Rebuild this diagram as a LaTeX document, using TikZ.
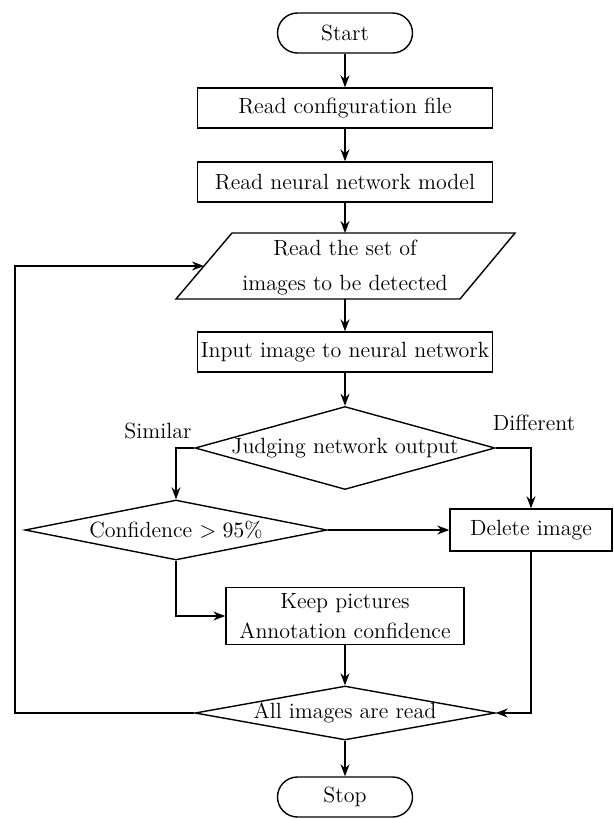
\documentclass[tikz,border=0pt]{standalone}
\usetikzlibrary{shapes.geometric,arrows.meta}
\begin{document}
\begin{tikzpicture}[x=0.5pt,y=-0.5pt, line width=0.7pt,
  font=\fontsize{11pt}{13.2pt}\selectfont,
  arr/.style={-{Stealth[length=6pt,width=4.5pt]}},
  term/.style={draw, rectangle, rounded corners=10pt, minimum width=67.5pt, minimum height=20pt, inner sep=0pt},
  proc/.style={draw, rectangle, minimum width=147.5pt, minimum height=20pt, inner sep=0pt},
  dec/.style={draw, diamond, inner sep=0pt},
  txt/.style={inner sep=0pt, align=center}
]
\useasboundingbox (0,0) rectangle (614,819);

\node[term] (start) at (345,33) {Start};
\node[proc] (cfg) at (345,108) {Read configuration file};
\node[proc] (model) at (345,182) {Read neural network model};

% parallelogram
\coordinate (pTL) at (232,233);
\coordinate (pTR) at (515,233);
\coordinate (pBR) at (460,299);
\coordinate (pBL) at (176,299);
\coordinate (paraT) at (345,233);
\coordinate (paraB) at (345,299);
\coordinate (paraL) at (204,266);
\draw (pTL) -- (pTR) -- (pBR) -- (pBL) -- cycle;
\node[txt] (para) at (345,268) {Read the set of\\[4.3pt]images to be detected};

\node[proc] (input) at (345,352) {Input image to neural network};

\node[dec, minimum width=150pt, minimum height=41.5pt] (judge) at (345,448) {};
\node[txt] (judgeT) at (345,448) {Judging network output};

\node[txt] (sim) at (158,431) {Similar};
\node[txt] (diff) at (534,423) {Different};

\node[dec, minimum width=151pt, minimum height=30pt] (cd) at (176,530) {};
\node[txt] (cdT) at (176,530) {Confidence $>95\%$};

\node[draw, rectangle, minimum width=81pt, minimum height=21pt, inner sep=0pt] (del) at (531,530) {Delete image};

\node[draw, rectangle, minimum width=119pt, minimum height=28.5pt, inner sep=0pt, align=center] (keep) at (345,616) {Keep pictures\\[1.8pt]Annotation confidence};

\node[dec, minimum width=150pt, minimum height=27pt] (all) at (345,713) {};
\node[txt] (allT) at (345,713) {All images are read};

\node[term] (stop) at (345,797) {Stop};

\coordinate (loopB) at (15,713);

\draw[arr] (start) -- (cfg);
\draw[arr] (cfg) -- (model);
\draw[arr] (model) -- (paraT);
\draw[arr] (paraB) -- (input);
\draw[arr] (input) -- (judge);
\draw[arr] (judge.west) -| (cd.north);
\draw[arr] (judge.east) -| (del.north);
\draw[arr] (cd.east) -- (del.west);
\draw[arr] (cd.south) |- (keep.west);
\draw[arr] (keep) -- (all);
\draw[arr] (del.south) |- (all.east);
\draw[arr] (all.west) -- (loopB) |- (paraL);
\draw[arr] (all) -- (stop);
\end{tikzpicture}
\end{document}
